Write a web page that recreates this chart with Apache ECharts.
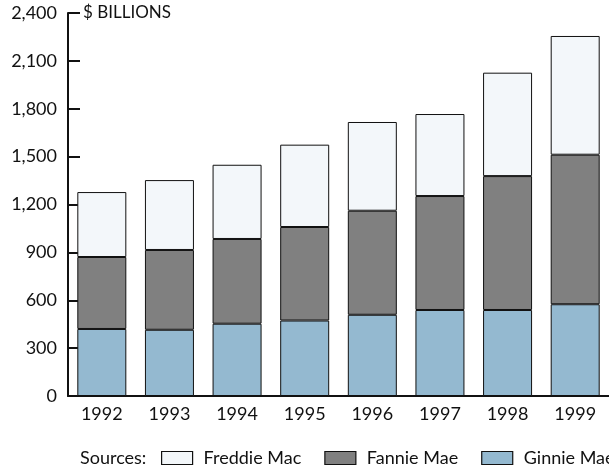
<!DOCTYPE html>
<html>
<head>
<meta charset="utf-8">
<script src="https://cdn.jsdelivr.net/npm/echarts@6/dist/echarts.min.js"></script>
<style>
html,body{margin:0;padding:0;background:#fff;}
#chart{width:609px;height:468px;}
</style>
</head>
<body>
<div id="chart"></div>
<script>
const years = ['1992','1993','1994','1995','1996','1997','1998','1999'];
const ginnieMae = [420, 415, 453, 473, 509, 539, 539, 575];
const fannieMae = [451, 500, 531, 586, 652, 714, 839, 937];
const freddieMac = [407, 438, 465, 516, 556, 514, 648, 744];
const seriesNames = ['Freddie Mac', 'Fannie Mae', 'Ginnie Mae'];
const unitLabel = '$ BILLIONS';
const sourcesLabel = 'Sources:';

const FONT = 'Lato';
const chart = echarts.init(document.getElementById('chart'));

function barSeries(name, data, color) {
  return {
    name: name,
    type: 'bar',
    stack: 'total',
    data: data,
    barWidth: 49,
    itemStyle: { color: color, borderColor: '#111', borderWidth: 1 },
    emphasis: { disabled: true }
  };
}

chart.setOption({
  animation: false,
  textStyle: { fontFamily: FONT, color: '#111' },
  grid: { left: 68, top: 13, width: 544, height: 383, containLabel: false },
  xAxis: {
    type: 'category',
    data: years,
    axisLine: { lineStyle: { color: '#111', width: 2 } },
    axisTick: { show: false },
    axisLabel: { fontSize: 18, color: '#111', margin: 9, fontFamily: FONT }
  },
  yAxis: {
    type: 'value',
    min: 0, max: 2400, interval: 300,
    axisLine: { show: true, lineStyle: { color: '#111', width: 2 } },
    axisTick: { show: true, inside: true, length: 12, lineStyle: { color: '#111', width: 2 } },
    splitLine: { show: false },
    axisLabel: {
      fontSize: 18, color: '#111', margin: 11, fontFamily: FONT,
      formatter: v => v.toLocaleString('en-US')
    }
  },
  legend: {
    data: seriesNames,
    left: 161,
    top: 449,
    padding: 0,
    width: 1000,
    itemWidth: 31,
    itemHeight: 13,
    itemGap: 23,
    icon: 'rect',
    selectedMode: false,
    itemStyle: { borderColor: '#111', borderWidth: 1.2 },
    textStyle: { fontSize: 18, color: '#111', fontFamily: FONT, padding: [0, 0, 0, 6] }
  },
  graphic: [
    { type: 'text', left: 83, top: 4,
      style: { text: unitLabel, fontSize: 17, fill: '#111', fontFamily: FONT } },
    { type: 'text', left: 80, top: 449,
      style: { text: sourcesLabel, fontSize: 18, fill: '#111', fontFamily: FONT } }
  ],
  series: [
    barSeries('Ginnie Mae', ginnieMae, '#94b9d0'),
    barSeries('Fannie Mae', fannieMae, '#808080'),
    barSeries('Freddie Mac', freddieMac, '#f3f7fa')
  ]
});
</script>
</body>
</html>
